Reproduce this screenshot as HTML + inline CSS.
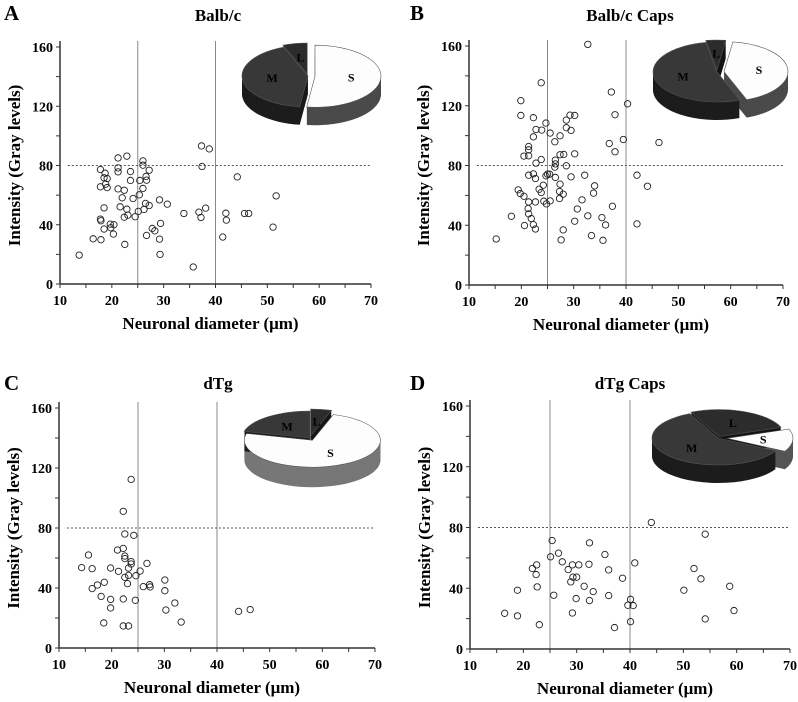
<!DOCTYPE html>
<html><head><meta charset="utf-8">
<style>
body{margin:0;background:#fff;}
svg{display:block;font-family:"Liberation Serif",serif;}
</style></head>
<body>
<svg id="chart" width="798" height="702" viewBox="0 0 798 702"></svg>
<script>
// Panel A: Balb/c
const aX=[13.7,16.4,17.9,17.8,18.7,18.5,19.1,18.8,17.8,19.1,18.5,17.8,17.9,18.5,19.7,20.4,19.8,20.3,22.5,21.2,22.9,21.2,21.2,23.6,23.6,21.2,22.4,22.0,24.1,21.6,22.9,23.1,22.4,24.5,25.1,25.3,25.4,26.0,26.0,26.0,27.2,26.6,26.7,26.5,27.2,26.2,29.2,30.7,29.4,27.8,28.3,26.7,29.2,29.3,33.9,35.7,37.3,38.8,37.4,36.8,38.1,37.2,41.4,42.0,42.1,44.2,45.6,46.4,51.1,51.7];
const aY=[19.5,30.5,29.9,77.3,74.8,71.7,71.2,67.4,65.6,65.1,51.4,43.8,42.7,37.1,40.4,40.0,38.0,33.7,26.7,85.1,86.3,78.4,75.7,75.9,69.9,64.2,63.3,58.2,57.7,52.1,50.5,46.5,45.1,45.4,49.0,60.2,69.9,64.5,83.1,80.2,76.8,72.6,70.1,54.4,53.0,50.3,56.8,53.9,40.9,37.5,35.9,32.8,30.3,20.0,47.6,11.5,93.2,91.2,79.3,48.5,51.2,44.9,31.7,47.8,43.1,72.3,47.6,47.6,38.4,59.5];
// Panel B: Balb/c Caps
const bX=[32.7,23.8,19.9,19.9,22.3,24.7,22.8,23.9,25.5,22.3,27.4,28.6,29.3,30.2,28.6,29.5,26.4,21.4,21.4,20.5,21.4,23.8,22.8,27.4,28.1,30.2,26.5,26.5,26.4,28.6,21.4,22.3,22.7,24.7,25.0,25.4,26.5,29.5,32.1,27.4,34.0,33.8,24.2,23.4,23.8,19.4,19.8,20.5,21.4,22.7,24.3,24.8,25.5,27.3,28.0,27.3,31.6,30.7,37.4,21.3,21.4,21.9,18.1,20.6,22.3,22.7,30.2,32.7,35.4,36.1,28.0,27.6,33.4,35.6,15.2,37.2,40.3,37.9,39.5,36.8,37.9,46.3,42.1,44.1,42.1];
const bY=[161.1,135.4,123.4,113.5,112.0,108.4,104.1,103.7,101.7,99.2,99.9,110.4,113.7,113.5,105.3,103.5,95.9,92.7,90.5,86.3,86.5,84.0,81.6,87.2,87.4,87.8,83.6,81.1,78.9,79.8,73.5,74.4,71.3,73.1,74.2,74.2,72.0,72.4,73.5,67.5,66.4,61.5,66.8,64.1,61.9,63.7,61.2,59.4,55.6,55.6,56.1,54.3,56.3,62.6,60.8,57.9,57.0,50.9,52.7,51.2,47.6,44.5,46.0,39.8,40.4,37.5,42.7,46.3,45.1,40.2,36.9,30.2,33.1,29.9,30.8,129.2,121.3,114.0,97.4,94.7,89.2,95.4,73.5,66.1,40.9];
// Panel C: dTg
const cX=[23.7,22.2,22.5,24.2,22.2,21.1,15.6,22.5,22.5,23.7,23.7,26.7,14.3,16.3,19.8,23.2,21.3,25.4,23.2,24.6,22.5,23.0,18.6,17.3,16.3,30.1,26.0,27.2,27.3,30.1,18.0,19.8,22.2,24.5,19.8,32.0,30.3,33.2,18.5,22.2,23.2,44.1,46.3];
const cY=[112.4,91.1,76.0,75.1,66.4,65.3,62.0,61.3,59.6,57.6,56.0,56.4,53.6,52.9,53.3,53.3,51.1,51.3,48.4,48.2,47.1,42.9,43.8,42.0,39.6,45.3,40.9,42.2,40.7,38.2,34.4,32.4,32.7,31.8,26.7,30.0,25.3,17.3,16.7,14.7,14.7,24.4,25.6];
// Panel D: dTg Caps
const dX=[44.0,54.1,25.4,32.4,26.6,35.3,25.1,27.3,22.5,29.2,30.4,32.3,40.9,21.7,28.4,36.0,52.0,22.4,29.3,30.0,38.6,53.3,28.9,31.4,22.6,18.9,50.1,58.7,33.1,25.7,36.0,29.9,32.4,40.1,39.6,40.6,16.5,18.9,29.2,59.5,54.1,40.1,23.0,37.1];
const dY=[83.3,75.6,71.4,69.9,63.1,62.2,60.7,57.4,55.4,55.4,55.4,55.8,56.7,53.0,52.3,52.1,53.0,49.0,47.3,47.3,46.6,46.2,44.2,41.3,40.9,38.7,38.7,41.3,37.8,35.4,35.2,33.2,31.9,32.7,28.8,28.6,23.5,21.8,23.7,25.3,19.8,18.0,16.0,14.1];
// Pie fractions (S, M, L)
const pieLabels=["S","M","L"];
const pieA=[0.52,0.42,0.06];
const pieB=[0.42,0.53,0.05];
const pieC=[0.74,0.21,0.05];
const pieD=[0.135,0.6,0.265];
const xTicks=[10,20,30,40,50,60,70];
const yTicks=[0,40,80,120,160];

const NS="http://www.w3.org/2000/svg";
const svg=document.getElementById('chart');
function mk(tag,attrs,parent){const e=document.createElementNS(NS,tag);for(const k in attrs)e.setAttribute(k,attrs[k]);(parent||svg).appendChild(e);return e;}

function panel(cfg){
  const g=mk('g',{});
  
  
  const sx=v=>cfg.x0+(v-10)/60*(cfg.x1-cfg.x0);
  const sy=v=>cfg.y0-(v/160)*(cfg.y0-cfg.y1);
  [25,40].forEach(v=>{const l=mk('line',{x1:sx(v),x2:sx(v),y1:cfg.y1-6,y2:cfg.y0,stroke:'#888','stroke-width':1},g);
    
    });
  const h=mk('line',{x1:sx(11.5),x2:sx(70),y1:sy(80),y2:sy(80),stroke:'#555','stroke-width':1,'stroke-dasharray':'2,2'},g);
  
  
  const ax=mk('line',{x1:cfg.x0,x2:cfg.x1,y1:cfg.y0,y2:cfg.y0,stroke:'#333','stroke-width':1.5},g);
  
  
  const ay=mk('line',{x1:cfg.x0,x2:cfg.x0,y1:cfg.y0,y2:cfg.y1-6,stroke:'#333','stroke-width':1.5},g);
  
  
  for(let v=10;v<=70;v+=5){mk('line',{x1:sx(v),x2:sx(v),y1:cfg.y0,y2:cfg.y0+4,stroke:'#333'},g);}
  for(let v=0;v<=160;v+=20){mk('line',{x1:cfg.x0-4,x2:cfg.x0,y1:sy(v),y2:sy(v),stroke:'#333'},g);}
  xTicks.forEach(v=>{const t=mk('text',{x:sx(v),y:cfg.y0+21,'text-anchor':'middle','font-size':14,'font-weight':'bold'},g);t.textContent=v;
    
    });
  yTicks.forEach(v=>{const t=mk('text',{x:cfg.x0-7,y:sy(v)+5,'text-anchor':'end','font-size':14,'font-weight':'bold'},g);t.textContent=v;
    
    });
  const xl=mk('text',{x:(cfg.x0+cfg.x1)/2-5,y:cfg.y0+45,'text-anchor':'middle','font-size':17,'font-weight':'bold'},g);
  xl.textContent='Neuronal diameter (\u03bcm)';
  
  
  const ym=(cfg.y0+cfg.y1)/2;
  const yl=mk('text',{x:cfg.x0-40,y:ym,'text-anchor':'middle','font-size':17,'font-weight':'bold',transform:`rotate(-90 ${cfg.x0-40} ${ym})`},g);
  yl.textContent='Intensity (Gray levels)';
  
  
  const tt=mk('text',{x:cfg.tx,y:cfg.ty,'text-anchor':'middle','font-size':17,'font-weight':'bold'},g);
  tt.textContent=cfg.title;
  
  
  const lt=mk('text',{x:cfg.lx,y:cfg.ly,'font-size':21,'font-weight':'bold'},g);
  lt.textContent=cfg.letter;
  
  
  cfg.xs.forEach((v,i)=>{const c=mk('circle',{cx:sx(v),cy:sy(cfg.ys[i]),r:3.2,fill:'none',stroke:'#222','stroke-width':0.9},g);
    
    });
  pie(g,cfg.pie,cfg.fr);
}

function pie(parent,p,fr){
  const g=mk('g',{},parent);
  
  
  let a=p.start;
  const tops=['#fdfdfd','#383838','#2c2c2c'];
  const sides=[p.sside||'#666','#1c1c1c','#141414'];
  const slices=fr.map((f,i)=>{const s={a0:a,a1:a+f*360,i};a+=f*360;return s;});
  const pt=(cx,cy,ang)=>{const r=ang*Math.PI/180;return [cx+p.rx*Math.sin(r),cy-p.ry*Math.cos(r)];};
  const path=(cx,cy,s)=>{const [x0,y0]=pt(cx,cy,s.a0),[x1,y1]=pt(cx,cy,s.a1);const big=(s.a1-s.a0)>180?1:0;
    return `M${cx},${cy}L${x0},${y0}A${p.rx},${p.ry} 0 ${big} 1 ${x1},${y1}Z`;};
  const ctr=s=>{const mid=(s.a0+s.a1)/2*Math.PI/180, e=p.explode[s.i];
    return [p.cx+e*Math.sin(mid), p.cy-e*0.5*Math.cos(mid), mid];};
  slices.forEach(s=>{const [cx,cy]=ctr(s);
    for(let d=p.depth;d>0;d--)mk('path',{d:path(cx,cy+d,s),fill:sides[s.i]},g);});
  slices.forEach(s=>{const [cx,cy,mid]=ctr(s);
    const sg=mk('g',{},g);
    
    
    mk('path',{d:path(cx,cy,s),fill:tops[s.i],stroke:'#555','stroke-width':0.6},sg);
    const lx=cx+p.rx*0.55*Math.sin(mid), ly=cy-p.ry*0.55*Math.cos(mid);
    const t=mk('text',{x:lx,y:ly+4,'text-anchor':'middle','font-size':12,'font-weight':'bold',fill:'#000'},sg);
    t.textContent=pieLabels[s.i];
    
    
  });
}

panel({name:'panel-a',letter:'A',lx:4,ly:20,title:'Balb/c',tx:218,ty:21,x0:60,x1:371,y0:284,y1:47,xs:aX,ys:aY,fr:pieA,
  pie:{cx:308,cy:76,rx:66,ry:31,depth:18,start:0,explode:[7,0,4],sside:'#4a4a4a'}});
panel({name:'panel-b',letter:'B',lx:410,ly:20,title:'Balb/c Caps',tx:630,ty:21,x0:469,x1:783,y0:285,y1:46,xs:bX,ys:bY,fr:pieB,
  pie:{cx:717,cy:72,rx:64,ry:30,depth:18,start:8,explode:[7,0,4],sside:'#4a4a4a'}});
panel({name:'panel-c',letter:'C',lx:4,ly:390,title:'dTg',tx:218,ty:389,x0:59,x1:375,y0:648,y1:408,xs:cX,ys:cY,fr:pieC,
  pie:{cx:310,cy:438,rx:68,ry:27,depth:20,start:18,explode:[5,0,4],sside:'#777'}});
panel({name:'panel-d',letter:'D',lx:410,ly:390,title:'dTg Caps',tx:630,ty:389,x0:470,x1:790,y0:649,y1:406,xs:dX,ys:dY,fr:pieD,
  pie:{cx:718,cy:438,rx:66,ry:27,depth:18,start:70,explode:[9,0,3],sside:'#555'}});
</script>
</body></html>
